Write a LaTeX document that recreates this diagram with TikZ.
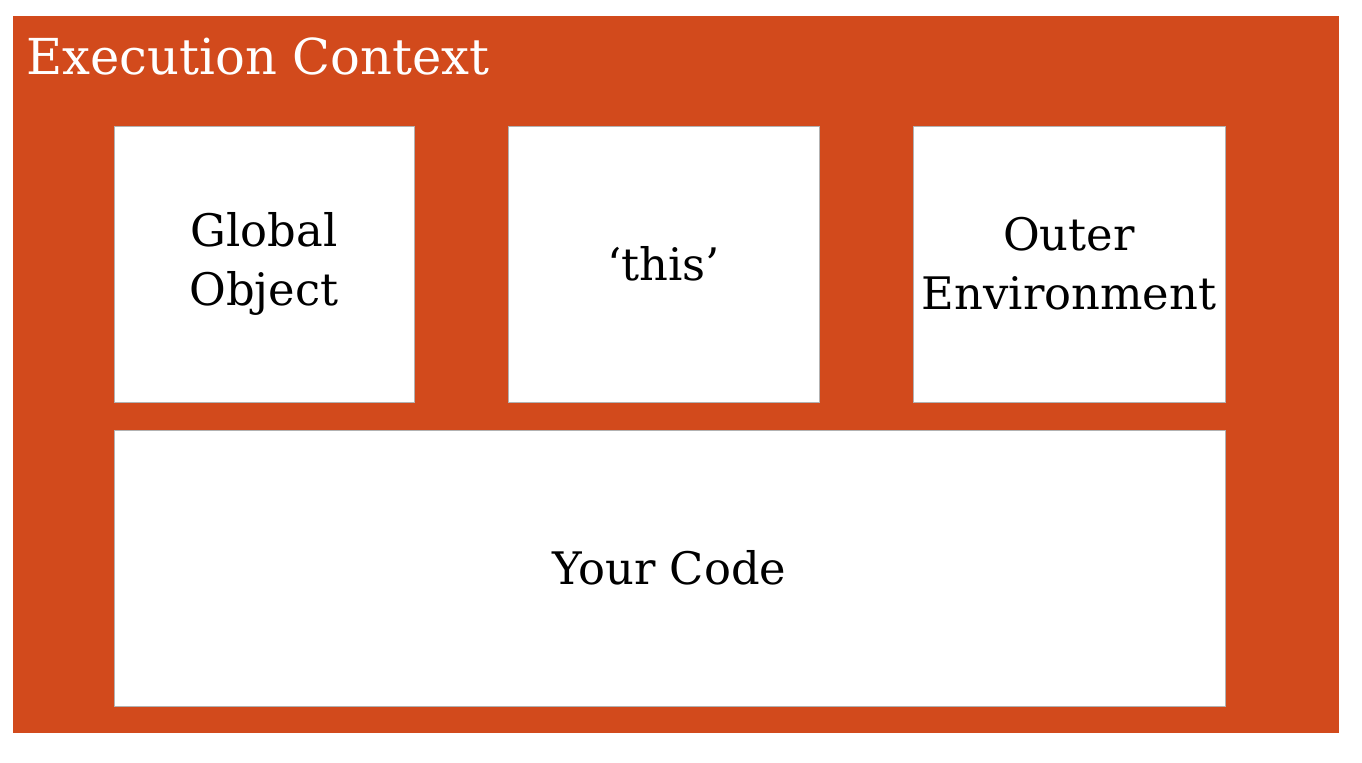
\documentclass[tikz,border=0pt]{standalone}
\usepackage{fontspec}
\setmainfont{DejaVu Serif}
\definecolor{ctxorange}{RGB}{210,74,28}
\tikzset{
  slot/.style={draw=gray!60, thin, fill=white, align=center, font=\fontsize{25.5}{33.5}\selectfont, inner sep=0pt}
}
\begin{document}
\begin{tikzpicture}[x=0.02cm, y=-0.02cm]
     \useasboundingbox (0,0) rectangle (1362,762);
     \fill [ctxorange](13,16) rectangle(1339,733);
     \node[anchor=base west, inner sep=0pt, text=white, font=\fontsize{28.2}{34}\selectfont] (title) at (26,74) {Execution Context};
     \node[slot, minimum width=6cm, minimum height=5.52cm] (global) at (264,264) {Global\\Object};
     \node[slot, minimum width=6.22cm, minimum height=5.52cm] (this) at (663.5,264) {‘this’};
     \node[slot, minimum width=6.24cm, minimum height=5.52cm] (outer) at (1069,264) {Outer\\Environment};
     \node[slot, minimum width=22.22cm, minimum height=5.52cm] (code) at (669.5,568) {Your Code};
\end{tikzpicture}
\end{document}
